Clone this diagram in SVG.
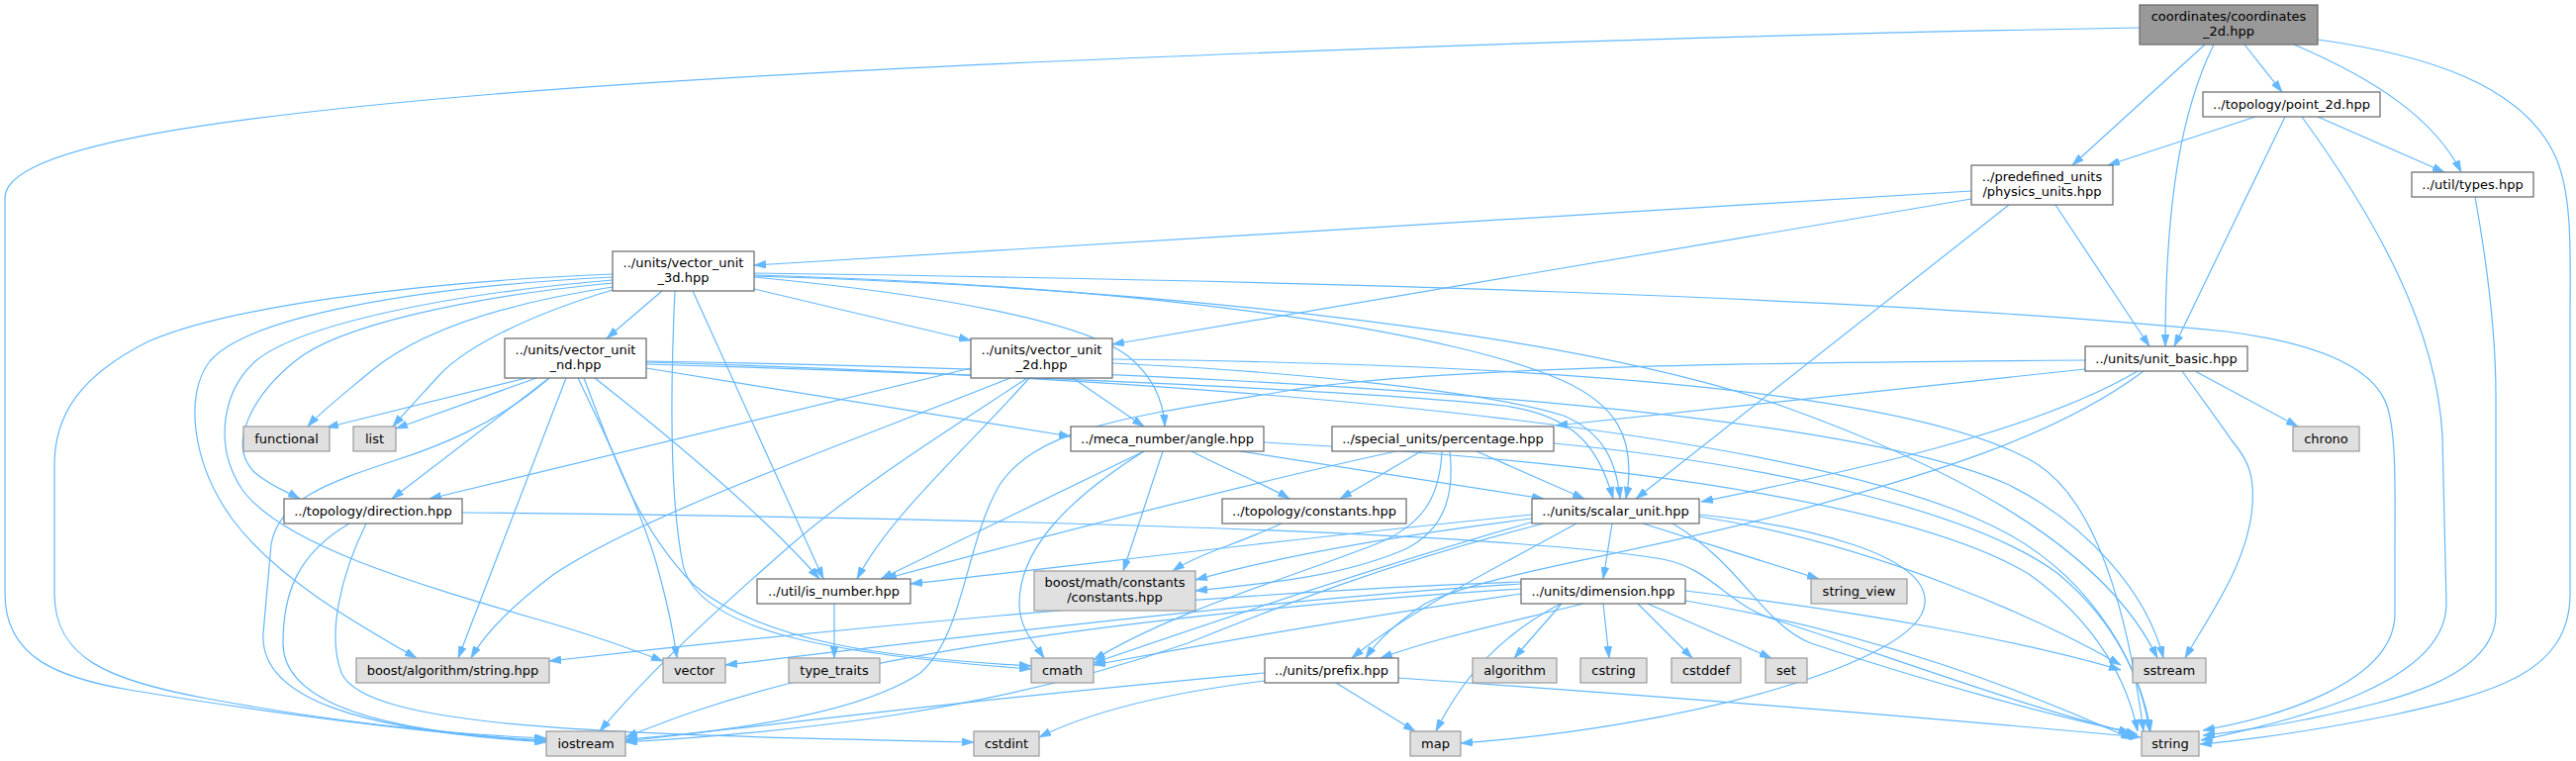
<svg xmlns="http://www.w3.org/2000/svg" width="2603" height="769" viewBox="0 0 2603 769">
<style>
.n rect{fill:#ffffff;stroke:#666666;stroke-width:1.2}
.g rect{fill:#e0e0e0;stroke:#999999;stroke-width:1.2}
.r rect{fill:#999999;stroke:#666666;stroke-width:1.2}
text{font-family:"DejaVu Sans","Liberation Sans",sans-serif;font-size:13px;fill:#000000;text-anchor:middle}
#edges path{fill:none;stroke:#63b8ff;stroke-width:1.2;marker-end:url(#ah)}
</style>
<defs>
<marker id="ah" viewBox="0 0 12 8" markerWidth="12" markerHeight="8" refX="12" refY="4" orient="auto" markerUnits="userSpaceOnUse">
<path d="M0,0 L12,4 L0,8 z" fill="#63b8ff" stroke="#63b8ff" stroke-width="0.6"/>
</marker>
</defs>
<rect x="0" y="0" width="2603" height="769" fill="#ffffff"/>
<g id="edges">
<path d="M2162,28 C1700,36 900,62 500,95 C200,120 5,150 5,200 L5,600 C5,665 60,685 130,697 C300,725 450,742 552,749"/>
<path d="M2228,45 L2094,167"/>
<path d="M2237,45 C2205,110 2188,200 2188,350"/>
<path d="M2268,45 L2306,93"/>
<path d="M2318,45 C2400,80 2460,120 2487,174"/>
<path d="M2342,40 C2450,55 2550,85 2583,160 C2600,200 2597,260 2597,320 L2597,600 C2597,680 2520,700 2420,722 C2340,738 2270,748 2223,752"/>
<path d="M2279,118 L2130,167"/>
<path d="M2309,118 L2197,350"/>
<path d="M2342,118 L2470,174"/>
<path d="M2326,118 C2400,220 2462,330 2468,440 L2472,610 C2472,690 2320,728 2224,748"/>
<path d="M1992,193 L762,268"/>
<path d="M1992,201 L1124,348"/>
<path d="M2030,207 L1653,504"/>
<path d="M2077,207 L2172,350"/>
<path d="M2501,199 C2512,260 2522,330 2522,400 L2522,620 C2522,690 2400,712 2330,727 C2290,735 2255,740 2226,743"/>
<path d="M2107,364 C1800,366 1450,370 1300,395 C1150,420 1050,430 1010,490 C975,550 975,640 930,680 C870,720 750,738 632,747"/>
<path d="M2107,373 L1572,430"/>
<path d="M2160,375 C2050,440 1850,480 1719,507"/>
<path d="M2166,375 C2080,440 1950,480 1800,520 C1650,560 1500,580 1440,610 C1410,630 1390,650 1380,665"/>
<path d="M2205,375 C2230,410 2245,430 2255,445 C2272,465 2278,480 2276,510 C2272,570 2230,625 2208,665"/>
<path d="M2218,375 L2322,431"/>
<path d="M669,294 L613,342"/>
<path d="M762,292 L981,344"/>
<path d="M619,277 C420,285 230,310 150,345 C80,380 55,420 55,470 L55,600 C55,665 110,688 210,706 C330,728 450,742 552,746"/>
<path d="M619,280 C420,290 250,320 212,365 C185,400 195,470 235,525 C280,585 360,630 421,665"/>
<path d="M619,283 C440,298 300,330 258,365 C225,395 215,450 245,495 C285,550 420,590 540,625 C600,642 635,655 670,668"/>
<path d="M619,286 C470,300 340,330 298,365 C255,400 228,450 258,478 C275,492 292,498 303,504"/>
<path d="M619,290 C500,308 420,338 375,375 C345,400 322,418 311,431"/>
<path d="M619,293 C535,318 472,350 445,378 C425,400 408,418 397,431"/>
<path d="M682,294 C678,380 676,500 690,570 C705,640 850,662 1042,676"/>
<path d="M700,294 L832,585"/>
<path d="M762,280 C950,298 1095,325 1140,360 C1168,383 1176,410 1177,431"/>
<path d="M762,276 C1300,283 1900,300 2250,335 C2350,348 2400,375 2412,410 C2422,440 2420,500 2420,560 L2420,620 C2420,690 2300,725 2226,738"/>
<path d="M762,279 C1200,292 1600,340 1800,410 C1990,478 2130,560 2180,665"/>
<path d="M762,278 C1200,290 1480,340 1580,385 C1630,408 1655,440 1643,504"/>
<path d="M532,382 L330,432"/>
<path d="M542,382 L400,433"/>
<path d="M555,382 C500,430 440,452 400,465 C330,488 282,505 274,550 L266,640 C262,705 360,738 552,750"/>
<path d="M555,382 L396,504"/>
<path d="M572,382 L463,665"/>
<path d="M584,382 C612,440 645,510 662,565 C672,600 680,635 684,665"/>
<path d="M590,382 C620,460 642,530 700,590 C770,650 900,665 1042,673"/>
<path d="M601,382 C700,460 780,530 828,585"/>
<path d="M653,372 L1082,441"/>
<path d="M653,368 C1000,378 1380,395 1520,410 C1590,420 1615,450 1630,504"/>
<path d="M653,365 C1250,375 1850,410 2030,490 C2110,530 2170,600 2186,665"/>
<path d="M653,366 C1300,385 1850,440 2030,540 C2120,590 2165,680 2173,739"/>
<path d="M981,372 L434,504"/>
<path d="M1021,382 C850,450 650,520 560,580 C520,610 490,640 476,665"/>
<path d="M1038,382 C950,440 870,490 800,550 C720,620 655,680 606,739"/>
<path d="M1040,382 C980,450 900,520 866,585"/>
<path d="M1084,382 L1156,431"/>
<path d="M1124,367 C1300,375 1500,395 1580,420 C1615,435 1633,460 1637,504"/>
<path d="M1124,363 C1600,368 1950,400 2060,470 C2120,510 2150,620 2166,739"/>
<path d="M353,529 C300,560 286,600 286,650 C286,720 420,742 552,748"/>
<path d="M370,529 C345,580 330,640 345,680 C370,735 600,742 984,750"/>
<path d="M467,518 C900,522 1500,535 1680,565 C1730,575 1745,610 1790,625 C1900,660 2060,720 2160,742"/>
<path d="M1156,456 L890,585"/>
<path d="M1156,456 C1070,510 1030,560 1030,610 C1030,635 1045,650 1055,665"/>
<path d="M1175,456 L1135,577"/>
<path d="M1204,456 C1240,475 1280,490 1303,504"/>
<path d="M1253,456 L1560,504"/>
<path d="M1277,447 C1700,470 1950,520 2050,580 C2120,630 2150,690 2160,739"/>
<path d="M1436,456 L1354,504"/>
<path d="M1411,456 C1300,480 1100,530 894,585"/>
<path d="M1492,456 L1601,504"/>
<path d="M1457,456 C1455,500 1440,530 1390,550 C1300,585 1180,620 1105,667"/>
<path d="M1465,456 C1470,500 1460,535 1420,555 C1350,585 1270,590 1208,597"/>
<path d="M1570,448 C1800,470 2000,520 2080,580 C2140,630 2165,690 2172,739"/>
<path d="M1629,529 L1620,585"/>
<path d="M1593,529 C1500,580 1420,620 1366,665"/>
<path d="M1548,520 C1300,545 1100,570 920,590"/>
<path d="M1548,524 C1420,540 1300,560 1208,586"/>
<path d="M1550,527 C1400,570 1250,620 1105,670"/>
<path d="M1560,529 C1400,570 1300,610 1200,650 C1000,720 800,740 632,750"/>
<path d="M1717,520 C1820,530 1950,560 1945,610 C1940,670 1700,735 1476,751"/>
<path d="M1660,529 L1838,585"/>
<path d="M1717,522 C1900,550 2070,630 2143,672"/>
<path d="M1690,529 C1760,570 1780,630 1830,650 C1950,690 2080,725 2153,740"/>
<path d="M1578,610 L1530,665"/>
<path d="M1620,610 L1626,665"/>
<path d="M1655,610 L1710,665"/>
<path d="M1665,610 L1790,665"/>
<path d="M1577,610 C1520,640 1480,680 1451,739"/>
<path d="M1600,610 C1520,630 1450,645 1395,665"/>
<path d="M1537,595 C1300,610 1000,640 800,690 C720,710 670,730 632,745"/>
<path d="M1537,600 C1400,620 1250,645 1105,672"/>
<path d="M1537,590 C1300,605 1000,640 733,672"/>
<path d="M1537,588 C1200,600 800,640 555,668"/>
<path d="M1703,597 C1900,620 2050,650 2143,677"/>
<path d="M1703,607 C1900,640 2050,700 2155,747"/>
<path d="M1350,690 L1430,739"/>
<path d="M1412,685 C1700,705 2000,730 2163,745"/>
<path d="M1278,680 C1000,705 800,730 632,749"/>
<path d="M1278,688 C1180,700 1100,720 1050,745"/>
<path d="M843,610 L843,665"/>
<path d="M1295,529 C1250,550 1210,560 1185,577"/>
</g>
<g id="n_coords" class="r"><rect x="2162" y="5" width="180" height="40"/><text x="2252" y="21">coordinates/coordinates</text><text x="2252" y="36">_2d.hpp</text></g>
<g id="n_point2d" class="n"><rect x="2226" y="93" width="179" height="25"/><text x="2315.5" y="110">../topology/point_2d.hpp</text></g>
<g id="n_physics" class="n"><rect x="1992" y="167" width="143" height="40"/><text x="2063.5" y="183">../predefined_units</text><text x="2063.5" y="198">/physics_units.hpp</text></g>
<g id="n_types" class="n"><rect x="2437" y="174" width="123" height="25"/><text x="2498.5" y="191">../util/types.hpp</text></g>
<g id="n_unit_basic" class="n"><rect x="2107" y="350" width="164" height="25"/><text x="2189" y="367">../units/unit_basic.hpp</text></g>
<g id="n_v3d" class="n"><rect x="619" y="254" width="143" height="40"/><text x="690.5" y="270">../units/vector_unit</text><text x="690.5" y="285">_3d.hpp</text></g>
<g id="n_v2d" class="n"><rect x="981" y="342" width="143" height="40"/><text x="1052.5" y="358">../units/vector_unit</text><text x="1052.5" y="373">_2d.hpp</text></g>
<g id="n_vnd" class="n"><rect x="510" y="342" width="143" height="40"/><text x="581.5" y="358">../units/vector_unit</text><text x="581.5" y="373">_nd.hpp</text></g>
<g id="n_functional" class="g"><rect x="246" y="431" width="87" height="25"/><text x="289.5" y="448">functional</text></g>
<g id="n_list" class="g"><rect x="357" y="431" width="43" height="25"/><text x="378.5" y="448">list</text></g>
<g id="n_direction" class="n"><rect x="287" y="504" width="180" height="25"/><text x="377" y="521">../topology/direction.hpp</text></g>
<g id="n_boost_algo" class="g"><rect x="360" y="665" width="195" height="25"/><text x="457.5" y="682">boost/algorithm/string.hpp</text></g>
<g id="n_iostream" class="g"><rect x="552" y="739" width="80" height="25"/><text x="592" y="756">iostream</text></g>
<g id="n_angle" class="n"><rect x="1082" y="431" width="195" height="25"/><text x="1179.5" y="448">../meca_number/angle.hpp</text></g>
<g id="n_is_number" class="n"><rect x="765" y="585" width="155" height="25"/><text x="842.5" y="602">../util/is_number.hpp</text></g>
<g id="n_boost_math" class="g"><rect x="1045" y="577" width="163" height="40"/><text x="1126.5" y="593">boost/math/constants</text><text x="1126.5" y="608">/constants.hpp</text></g>
<g id="n_vector" class="g"><rect x="670" y="665" width="63" height="25"/><text x="701.5" y="682">vector</text></g>
<g id="n_type_traits" class="g"><rect x="797" y="665" width="92" height="25"/><text x="843" y="682">type_traits</text></g>
<g id="n_cmath" class="g"><rect x="1042" y="665" width="63" height="25"/><text x="1073.5" y="682">cmath</text></g>
<g id="n_cstdint" class="g"><rect x="984" y="739" width="66" height="25"/><text x="1017" y="756">cstdint</text></g>
<g id="n_topo_const" class="n"><rect x="1235" y="504" width="186" height="25"/><text x="1328" y="521">../topology/constants.hpp</text></g>
<g id="n_percentage" class="n"><rect x="1346" y="431" width="224" height="25"/><text x="1458" y="448">../special_units/percentage.hpp</text></g>
<g id="n_scalar" class="n"><rect x="1548" y="504" width="169" height="25"/><text x="1632.5" y="521">../units/scalar_unit.hpp</text></g>
<g id="n_dimension" class="n"><rect x="1537" y="585" width="166" height="25"/><text x="1620" y="602">../units/dimension.hpp</text></g>
<g id="n_string_view" class="g"><rect x="1830" y="585" width="97" height="25"/><text x="1878.5" y="602">string_view</text></g>
<g id="n_prefix" class="n"><rect x="1278" y="665" width="135" height="25"/><text x="1345.5" y="682">../units/prefix.hpp</text></g>
<g id="n_algorithm" class="g"><rect x="1488" y="665" width="85" height="25"/><text x="1530.5" y="682">algorithm</text></g>
<g id="n_cstring" class="g"><rect x="1597" y="665" width="67" height="25"/><text x="1630.5" y="682">cstring</text></g>
<g id="n_cstddef" class="g"><rect x="1689" y="665" width="70" height="25"/><text x="1724" y="682">cstddef</text></g>
<g id="n_set" class="g"><rect x="1784" y="665" width="42" height="25"/><text x="1805" y="682">set</text></g>
<g id="n_map" class="g"><rect x="1425" y="739" width="51" height="25"/><text x="1450.5" y="756">map</text></g>
<g id="n_chrono" class="g"><rect x="2317" y="431" width="67" height="25"/><text x="2350.5" y="448">chrono</text></g>
<g id="n_sstream" class="g"><rect x="2155" y="665" width="74" height="25"/><text x="2192" y="682">sstream</text></g>
<g id="n_string" class="g"><rect x="2164" y="739" width="58" height="25"/><text x="2193" y="756">string</text></g>
</svg>
